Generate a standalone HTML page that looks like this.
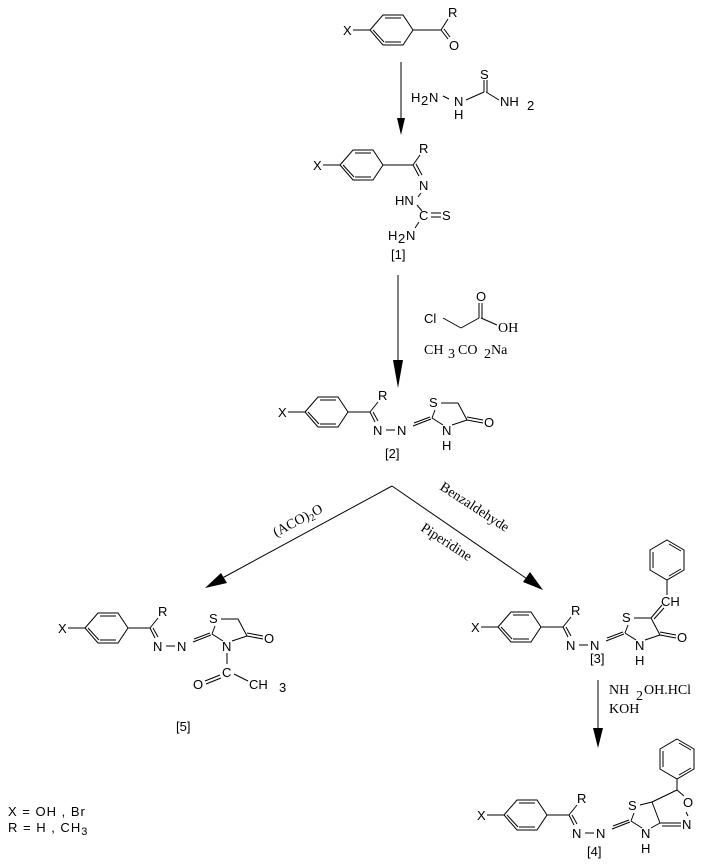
<!DOCTYPE html>
<html><head><meta charset="utf-8"><style>
html,body{margin:0;padding:0;background:#fff;}
svg{display:block;}
.a{font-family:"Liberation Sans",sans-serif;font-size:13px;fill:#000;}
.s{font-family:"Liberation Serif",serif;font-size:14px;fill:#000;}
line,polyline,polygon.r{stroke:#000;stroke-width:1;fill:none;}
</style></head><body>
<svg width="710" height="864" viewBox="0 0 710 864" xmlns="http://www.w3.org/2000/svg">
<defs>
<g id="ph">
 <polygon class="r" points="22,0 35,-15 55,-15 65,0 55,15 35,15"/>
 <line x1="37" y1="-12" x2="53" y2="-12"/>
 <line x1="37" y1="12" x2="53" y2="12"/>
 <line x1="25" y1="0" x2="36" y2="12"/>
</g>
<g id="core0">
 <text class="a" x="-5" y="5">X</text>
 <line x1="5" y1="0" x2="22" y2="0"/>
 <use href="#ph"/>
 <line x1="65" y1="0" x2="87" y2="0"/>
 <line x1="87" y1="0" x2="95" y2="-10"/>
 <text class="a" x="95" y="-12">R</text>
 <line x1="87" y1="0" x2="92" y2="10"/>
 <line x1="90" y1="0" x2="95" y2="9"/>
 <text class="a" x="90" y="23">N</text>
 <line x1="103" y1="18" x2="112" y2="18"/>
 <text class="a" x="114" y="23">N</text>
 <line x1="130" y1="14" x2="148" y2="7"/>
 <line x1="131" y1="11" x2="147" y2="5"/>
 <line x1="149" y1="6" x2="152" y2="-2"/>
 <text class="a" x="146" y="-5">S</text>
 <line x1="149" y1="6" x2="160" y2="13"/>
 <text class="a" x="159" y="23">N</text>
</g>
<g id="core">
 <use href="#core0"/>
 <line x1="158" y1="-9" x2="175" y2="-9"/>
 <line x1="169" y1="13" x2="184" y2="8"/>
 <line x1="184" y1="8" x2="200" y2="11"/>
 <line x1="184" y1="5" x2="200" y2="8"/>
 <text class="a" x="201" y="15">O</text>
</g>
<g id="hex6">
 <polygon class="r" points="0,-20 17,-10 17,10 0,20 -17,10 -17,-10"/>
 <line x1="-14" y1="-8" x2="-14" y2="8"/>
 <line x1="2" y1="-16" x2="14" y2="-9"/>
 <line x1="2" y1="16" x2="14" y2="9"/>
</g>
</defs>

<!-- top ketone -->
<g transform="translate(348,30)">
 <text class="a" x="-5" y="5">X</text>
 <line x1="5" y1="0" x2="22" y2="0"/>
 <use href="#ph"/>
 <line x1="65" y1="0" x2="93" y2="0"/>
 <line x1="93" y1="0" x2="100" y2="-11"/>
 <text class="a" x="100" y="-13">R</text>
 <line x1="93" y1="0" x2="100" y2="9"/>
 <line x1="96" y1="-1" x2="102" y2="7"/>
 <text class="a" x="101" y="20">O</text>
</g>

<!-- arrow 1 -->
<line x1="401" y1="62" x2="401" y2="125"/>
<polygon points="397,118 405,118 401,135" fill="#000"/>
<text class="a" x="411" y="102">H</text><text class="a" x="421" y="105" font-size="12">2</text><text class="a" x="429" y="102">N</text>
<line x1="443" y1="96" x2="449" y2="99"/>
<text class="a" x="454" y="106">N</text><text class="a" x="454" y="119">H</text>
<line x1="466" y1="100" x2="484" y2="92"/>
<line x1="484" y1="92" x2="484" y2="80"/><line x1="487" y1="92" x2="487" y2="80"/>
<text class="a" x="480" y="79">S</text>
<line x1="486" y1="92" x2="499" y2="100"/>
<text class="a" x="500" y="106">NH</text><text class="a" x="527" y="110" font-size="12">2</text>

<!-- compound 1 -->
<g transform="translate(318,165)">
 <text class="a" x="-5" y="5">X</text>
 <line x1="5" y1="0" x2="22" y2="0"/>
 <use href="#ph"/>
 <line x1="65" y1="0" x2="95" y2="0"/>
 <line x1="95" y1="0" x2="102" y2="-10"/>
 <text class="a" x="101" y="-12">R</text>
 <line x1="95" y1="0" x2="101" y2="11"/>
 <line x1="98" y1="-1" x2="104" y2="10"/>
 <text class="a" x="101" y="25">N</text>
 <line x1="103" y1="28" x2="100" y2="32"/>
 <text class="a" x="77" y="40">HN</text>
 <line x1="99" y1="40" x2="104" y2="46"/>
 <text class="a" x="101" y="55">C</text>
 <line x1="113" y1="48" x2="123" y2="48"/><line x1="113" y1="52" x2="123" y2="52"/>
 <text class="a" x="124" y="55">S</text>
 <line x1="101" y1="57" x2="97" y2="63"/>
 <text class="a" x="70" y="75">H</text><text class="a" x="80" y="78" font-size="12">2</text><text class="a" x="88" y="75">N</text>
</g>
<text class="a" x="391" y="259">[1]</text>

<!-- arrow 2 -->
<line x1="398" y1="275" x2="398" y2="372"/>
<polygon points="393,360 403,360 398,388" fill="#000"/>
<text class="a" x="424" y="323">Cl</text>
<line x1="443" y1="318" x2="461" y2="328"/>
<line x1="461" y1="328" x2="479" y2="318"/>
<line x1="479" y1="318" x2="479" y2="303"/><line x1="482" y1="318" x2="482" y2="303"/>
<text class="a" x="476" y="301">O</text>
<line x1="481" y1="318" x2="497" y2="325"/>
<text class="s" x="498" y="332">OH</text>
<text class="s" x="424" y="354">CH</text><text class="s" x="448" y="358">3</text><text class="s" x="458" y="354">CO</text><text class="s" x="484" y="358">2</text><text class="s" x="491" y="354">Na</text>

<!-- compound 2 -->
<g transform="translate(283,412)">
 <use href="#core"/>
 <line x1="175" y1="-9" x2="184" y2="8"/>
 <text class="a" x="159" y="38">H</text>
</g>
<text class="a" x="385" y="458">[2]</text>

<!-- branch arrows -->
<line x1="392" y1="486" x2="215" y2="582"/>
<polygon points="205,588 221,573 227,583" fill="#000"/>
<line x1="392" y1="486" x2="533" y2="583"/>
<polygon points="543,590 523,582 530,572" fill="#000"/>
<text class="s" transform="translate(276,537) rotate(-28)">(ACO)<tspan font-size="10" dy="3">2</tspan><tspan dy="-3">O</tspan></text>
<text class="s" transform="translate(439,489) rotate(33)">Benzaldehyde</text>
<text class="s" font-size="12" transform="translate(420,530) rotate(33)">Piperidine</text>

<!-- compound 5 -->
<g transform="translate(63,628)">
 <use href="#core"/>
 <line x1="175" y1="-9" x2="184" y2="8"/>
 <line x1="164" y1="25" x2="164" y2="36"/>
 <text class="a" x="159" y="49">C</text>
 <line x1="157" y1="47" x2="142" y2="53"/><line x1="158" y1="50" x2="143" y2="56"/>
 <text class="a" x="130" y="61">O</text>
 <line x1="171" y1="46" x2="185" y2="53"/>
 <text class="a" x="186" y="61">CH</text><text class="a" x="216" y="64">3</text>
</g>
<text class="a" x="176" y="731">[5]</text>

<!-- compound 3 -->
<g transform="translate(476,627)">
 <use href="#core"/>
 <line x1="175" y1="-9" x2="184" y2="8"/>
 <line x1="175" y1="-9" x2="186" y2="-22"/><line x1="178" y1="-8" x2="188" y2="-19"/>
 <text class="a" x="185" y="-21">CH</text>
 <line x1="191" y1="-32" x2="191" y2="-47"/>
 <text class="a" x="159" y="38">H</text>
</g>
<use href="#hex6" transform="translate(667,560)"/>
<text class="a" x="590" y="663">[3]</text>

<!-- arrow 4 -->
<line x1="598" y1="680" x2="598" y2="735"/>
<polygon points="593,728 603,728 598,748" fill="#000"/>
<text class="s" x="609" y="694">NH</text><text class="s" x="636" y="700">2</text><text class="s" x="644" y="694">OH.HCl</text>
<text class="s" x="609" y="713">KOH</text>

<!-- compound 4 -->
<g transform="translate(482,815)">
 <use href="#core0"/>
 <text class="a" x="159" y="38">H</text>
 <line x1="158" y1="-10" x2="170" y2="-13"/>
 <line x1="170" y1="-13" x2="178" y2="8"/>
 <line x1="169" y1="13" x2="178" y2="8"/>
 <line x1="178" y1="8" x2="199" y2="8"/>
 <line x1="180" y1="11" x2="199" y2="11"/>
 <text class="a" x="200" y="14">N</text>
 <line x1="206" y1="1" x2="204" y2="-3"/>
 <text class="a" x="201" y="-8">O</text>
 <line x1="202" y1="-19" x2="195" y2="-25"/>
 <line x1="195" y1="-25" x2="170" y2="-13"/>
 <line x1="195" y1="-25" x2="195" y2="-36"/>
</g>
<use href="#hex6" transform="translate(677,759)"/>
<text class="a" x="587" y="856">[4]</text>

<!-- legend -->
<text class="a" x="8" y="816" letter-spacing="1">X = OH  , Br</text>
<text class="a" x="8" y="832" letter-spacing="1">R = H  , CH<tspan font-size="11" dy="3">3</tspan></text>
</svg>
</body></html>
